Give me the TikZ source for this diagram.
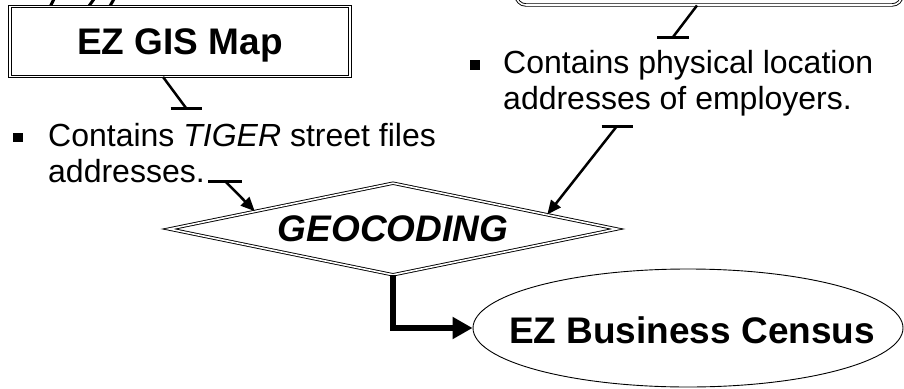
\documentclass[tikz,border=0pt]{standalone}
\usepackage{fontspec}
\setmainfont{Liberation Sans}
\usetikzlibrary{shapes.geometric,arrows.meta,calc}
\begin{document}
\begin{tikzpicture}[x=1pt,y=-1pt,
  dbl/.style={draw, line width=0.9pt, double, double distance=1.6pt},
  head/.style={font=\fontsize{37}{40}\selectfont\bfseries, inner sep=0pt, text depth=0pt},
  bullettext/.style={font=\fontsize{32}{36}\selectfont, align=left, anchor=base west, inner sep=0pt},
  bulletsq/.style={fill, minimum size=9.5pt, inner sep=0pt},
  conn/.style={line width=2.5pt},
  tickline/.style={line width=3pt},
  arr/.style={line width=2.5pt, -{Triangle[length=14pt,width=12pt]}},
  bigarr/.style={line width=5.5pt, -{Triangle[length=20pt,width=21pt]}},
  frag/.style={line width=3pt},
]
\useasboundingbox (0,0) rectangle (904,388);
\clip (0,0) rectangle (904,388);

% partial strokes at the top edge
\draw[frag] (50,7) -- (54,-1);
\draw[frag] (89,6) -- (94,-1);
\draw[frag] (110,6) -- (114,-1);

% boxes
\node[dbl, head, minimum width=340pt, minimum height=70pt] (gis) at (180,41.5) {EZ GIS Map};
\node[dbl, rounded corners=10pt, minimum width=386pt, minimum height=90pt, inner sep=0pt] (emp) at (709,-40) {};
\node[dbl, diamond, head, aspect=4.87, minimum width=448pt, minimum height=92pt] (geo) at (393,229) {\itshape GEOCODING};
\node[draw, ellipse, line width=0.9pt, minimum width=430pt, minimum height=118pt, inner sep=0pt] (bc) at (688,328) {};
\node[head] (bctext) at (692,330) {EZ Business Census};

% bullet texts (anchor = baseline of the last line)
\node[bulletsq] (sq1) at (18,137.5) {};
\node[bullettext] (b1) at (48,182) {Contains \textit{TIGER} street files\\addresses.};
\node[bulletsq] (sq2) at (475,65) {};
\node[bullettext] (b2) at (503,109) {Contains physical location\\addresses of employers.};

% connectors
\coordinate (t1) at (186,108);
\draw[conn] ([xshift=-17pt]gis.south) -- (t1);
\draw[tickline] ([xshift=-15.5pt]t1) -- ([xshift=15.5pt]t1);

\coordinate (t2) at (673,37);
\draw[conn] ([xshift=-12pt]emp.south) -- (t2);
\draw[tickline] ([xshift=-16pt]t2) -- ([xshift=16pt]t2);

\coordinate (t3) at (225,181);
\draw[tickline] ([xshift=-17pt]t3) -- ([xshift=17pt]t3);
\draw[arr] (t3) -- ($(geo.west)!0.384!(geo.north)$);

\coordinate (t4) at (617,126);
\draw[tickline] ([xshift=-15.5pt]t4) -- ([xshift=15.5pt]t4);
\draw[arr] (t4) -- ($(geo.north)!0.6875!(geo.east)$);

\draw[bigarr] (geo.south) |- (bc.west);
\end{tikzpicture}
\end{document}
